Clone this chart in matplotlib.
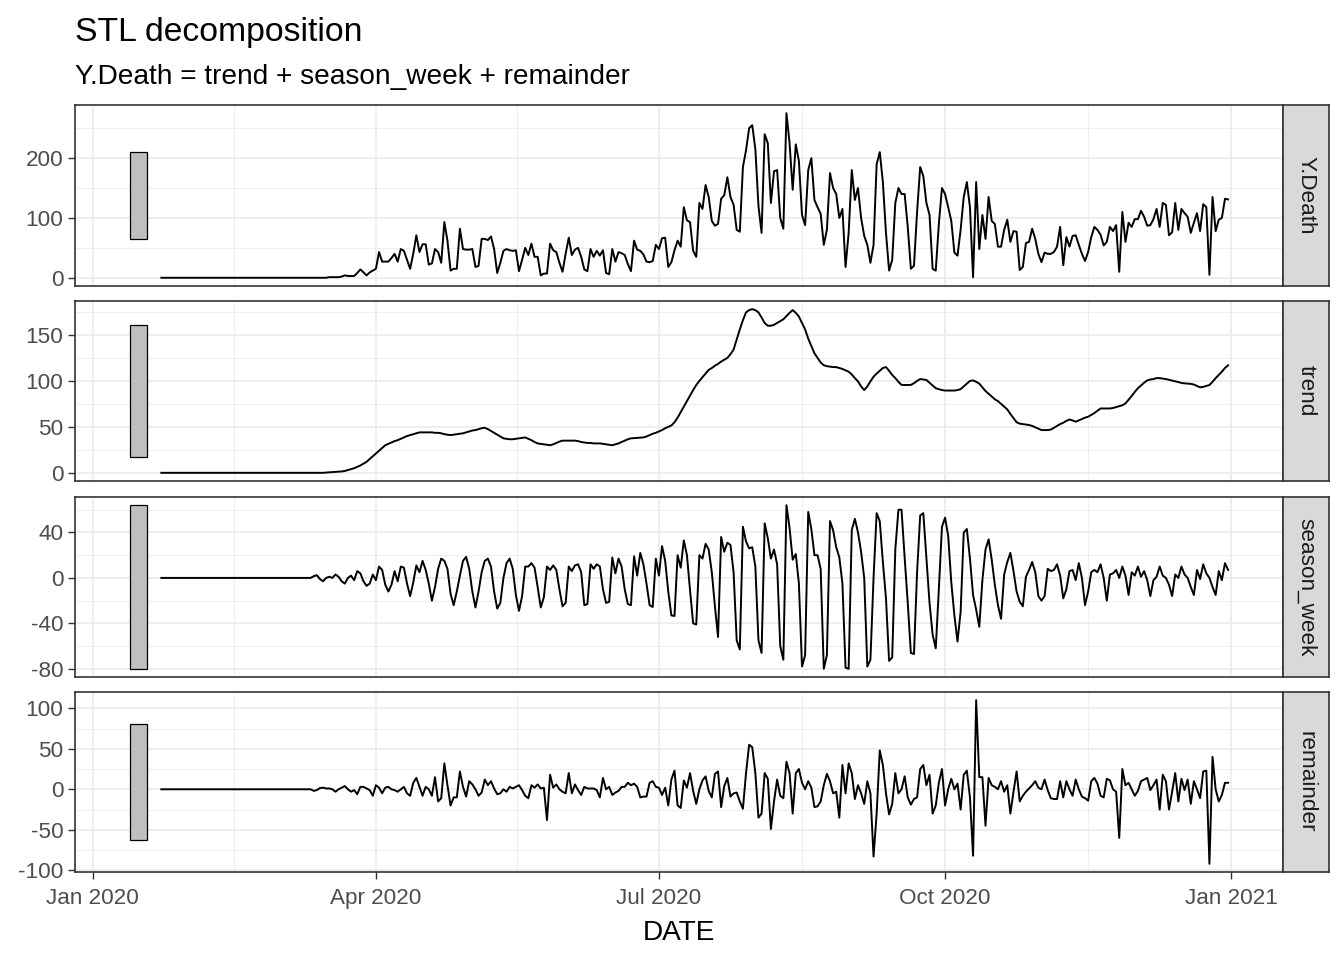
"""STL decomposition of daily deaths, four stacked panels"""
import matplotlib
matplotlib.use("Agg")
import matplotlib.pyplot as plt
import matplotlib.dates as mdates
from matplotlib.patches import Rectangle
from matplotlib.ticker import MultipleLocator, AutoMinorLocator
import pandas as pd

FIRST_DAY = "2020-01-23"

# Jan 23 - Mar 11 are flat zero (49 days), then rows of 10 days from Mar 12
Y_DEATH = [0] * 49 + [
    0, 0, 0, 0, 0, 1, 1, 1, 1, 2,
    4, 3, 3, 3, 8, 14, 9, 4, 9, 12,
    15, 43, 27, 27, 27, 33, 40, 27, 48, 45,
    30, 15, 40, 71, 43, 56, 56, 22, 24, 48,
    43, 25, 93, 62, 12, 15, 15, 82, 48, 47,
    47, 48, 18, 20, 65, 65, 63, 69, 48, 8,
    25, 45, 48, 46, 45, 46, 11, 30, 50, 38,
    57, 35, 35, 4, 7, 7, 57, 46, 43, 25,
    10, 40, 67, 38, 47, 50, 35, 14, 11, 48,
    35, 45, 37, 46, 8, 6, 48, 27, 43, 41,
    38, 23, 11, 62, 47, 45, 39, 27, 26, 28,
    55, 48, 66, 67, 18, 26, 46, 62, 52, 118,
    96, 93, 45, 35, 125, 115, 155, 135, 95, 87,
    90, 132, 138, 168, 135, 122, 80, 77, 185, 213,
    250, 255, 215, 120, 75, 240, 225, 125, 178, 180,
    100, 82, 275, 225, 147, 223, 195, 105, 88, 180,
    200, 130, 118, 107, 55, 80, 175, 150, 140, 100,
    115, 18, 75, 180, 130, 150, 100, 70, 55, 25,
    55, 190, 210, 160, 75, 12, 30, 125, 150, 140,
    140, 85, 15, 20, 110, 185, 170, 125, 105, 15,
    12, 90, 150, 140, 118, 95, 42, 37, 80, 135,
    160, 118, 1, 160, 48, 105, 65, 135, 95, 90,
    52, 52, 80, 97, 60, 78, 77, 13, 18, 58,
    60, 82, 65, 40, 26, 42, 40, 40, 43, 52,
    85, 21, 68, 52, 70, 71, 55, 40, 28, 43,
    68, 85, 80, 72, 54, 60, 85, 78, 88, 10,
    110, 60, 92, 85, 98, 98, 112, 102, 87, 88,
    98, 115, 85, 125, 122, 71, 76, 125, 80, 115,
    108, 102, 75, 92, 108, 78, 123, 118, 5, 135,
    78, 97, 100, 132, 131]

TREND = [0] * 49 + [
    0, 0, 0, 0, 0.3, 0.5, 0.8, 1, 1.2, 1.5,
    2, 3, 4, 5, 6.5, 8, 10, 12, 15, 18,
    21, 24, 27, 30, 31.5, 33, 34.5, 35.5, 37, 38.5,
    40, 41, 42, 43, 44, 44, 44, 44, 44, 43.5,
    43.5, 43, 42, 41.5, 41, 41.5, 42, 42.5, 43, 44,
    45, 46, 46.5, 47.5, 48.5, 49, 47.5, 45.5, 43.6, 41.5,
    39.5, 37.5, 37, 36.5, 36.5, 37, 37.5, 38, 38.5, 37,
    35.5, 33.5, 32, 31.5, 31, 30.5, 30, 31, 32.5, 34,
    35, 35, 35, 35, 35, 34.5, 33.5, 33, 32.5, 32.5,
    32, 32, 32, 31.5, 31, 30.5, 30, 31, 32, 33.5,
    35, 36.5, 37.5, 37.8, 38, 38.2, 38.5, 39.5, 41, 42.5,
    43.5, 45, 46.5, 48.5, 50, 51.5, 55, 60, 66, 72,
    78, 84, 90, 95.5, 100, 104, 108, 112, 114, 116.5,
    118.5, 121, 123, 125, 129, 134, 145, 156, 166, 174.5,
    177, 178, 177, 174.5, 169, 163, 160, 160, 161, 163,
    165, 167, 170.5, 174, 177, 174, 170, 163, 156, 146,
    138, 130, 125, 120, 117, 116, 115.5, 115, 115, 114,
    113, 111.5, 110, 107, 103, 99.5, 94, 90, 94, 99.5,
    104.5, 108, 111, 114, 115, 111, 106.5, 103, 99, 95.6,
    95.5, 95.5, 95.6, 97.5, 100, 102, 101.5, 101, 98, 95,
    92, 91, 90, 89.5, 89.5, 89.5, 89.5, 90, 91, 94,
    97, 100, 100.5, 99, 97, 93, 89, 86, 83, 80,
    78, 75, 72, 69, 64, 59.5, 55, 53.5, 53, 52.5,
    52, 51, 49.5, 48, 46.5, 46.5, 46.5, 47, 49, 51,
    53, 54.5, 56.5, 58, 57, 55.6, 57, 58.5, 60, 61,
    63, 65, 67.5, 70, 70, 70, 70, 70.5, 71.5, 72.5,
    73.5, 75.5, 79.5, 83.5, 88, 92, 95, 98, 100.5, 101.5,
    102, 103, 103, 102.5, 102, 101.2, 100.5, 99.6, 98.7, 97.8,
    97.3, 97, 96.8, 96, 94.5, 93, 93.5, 94.5, 95.5, 99,
    103, 106.5, 110, 114, 117]

SEASON_WEEK = [0] * 49 + [
    1.5, 2.4, -1, -3, 0, 1, 0, 3, 1, -3,
    -5, 0, 2, -2, 6, 4, -3, -7, -5, 3,
    -2, 10, 7, -6, -12, -6, 6, -3, 10, 9,
    -5, -16, -4, 11, 5, 15, 7, -5, -20, -8,
    8, 17, 15, 8, -14, -24, -12, 2, 15, 18.5,
    8, -12, -26, -12, 5, 15, 17, 10, -12, -27,
    -22, 0, 13, 17, 8, -15, -29, -16, 10, 10,
    13, 9, -8, -26, -17, 10, 7, 11, 7, -10,
    -25, -22, 10, 6, 11, 12, 5, -24, -23, 12,
    8, 12, 10, -10, -22, -21, 18, 4, 17, 10,
    -10, -23, -24, 19, 2, 22, 12, -5, -24, -25.6,
    17, 2, 28, 15, -12, -33, -33.5, 20, 9, 33,
    20, -11, -40, -41, 20, 17, 30, 25, 5, -25,
    -52, 36, 23, 31, 29, 5, -55, -63, 45, 32,
    26, 27, 10, -55, -66, 48, 35, 17, 25, 12,
    -60, -72, 64, 44, 16, 21, -5, -78, -68, 58,
    43, 20, 20, 8, -80, -68, 50, 42, 27, 18,
    -5, -79, -80, 42, 52, 40, 23, 0, -78, -72,
    0, 57, 50, 14, -18, -73, -70, 25, 60, 60,
    18, -22, -66, -67, 5, 55, 57, 17, -22, -50,
    -62, -10, 45, 53, 37, -4, -33, -56, -30, 40,
    43, 17, -15, -28, -43, -2, 25, 34, 16, -6,
    -24, -36, 3, 14, 22, 6, -12, -21, -25, 1,
    7, 14, 5, -16, -20, -16, 8, 6, 7, 12,
    2, -18, -10, 6, 7, -2, 13, 0, -24, -12,
    5, 7, 5, 12, 0, -20, 3, 4, 7, 0,
    10, 2, -15, 5, 2, 10, 1, 6, -2, -16,
    -2, 1, 10, 2, 0, -6, -16, 3, 0, 10,
    3, 0, -8, -15, 7, -1, 12, 4, 0, -8,
    -15, 6, -2, 13, 7]

REMAINDER = [0] * 49 + [
    -2, -1, 1.5, 2, 1, 1, 0, -3, 0, 2,
    4, 0, -3, -1, -6, 3, 3, 1, -1, -8,
    5, 2, -5, 2, 3, 0, -1, -3, 0, 3,
    -5, -8, 8, 14, 3, -8, 3, 0, -8, 15,
    -15, -11, 32, 5, -20, -10, -10, 22, 3, -9,
    10, 6, 0, -8, -4, 12, 5, 10, 1, -6,
    -5, 0, -3, 3, 1, 3, 5, -1, -8, -11,
    5, 2, 6, 1, 2, -38, 18, 2, 6, 0,
    -3, -5, 20, -5, 6, -1, -7, 3, 1, 1,
    1, -1, -10, 14, 0, 3, -7, -4, -2, 3,
    3, 8, 5, 7, 3, -10, -9, -9, 8, 10,
    3, 2, -7, 2, -20, 12, 23, -20, -23, 11,
    2, 20, -2, -18, 0, 11, 16, -2, -10, 19,
    22, -22, 4, 14, -9, -5, -4, -15, -24, 20,
    55, 52, 20, -35, -30, 20, 13, -49, -15, 12,
    -8, -11, 34, 20, -30, 20, 25, 8, 0, 10,
    2, -22, -21, -15, 5, 19, 10, -5, -3, -35,
    30, -5, 32, 20, -12, 5, -5, -18, 10, -5,
    -83, -30, 48, 30, -5, -31, -18, 20, -5, 0,
    16, -10, -19, -12, -10, 25, 30, 5, 18, -30,
    -20, 8, 25, -20, 0, 13, 0, 7, -25, 18,
    23, -10, -82, 110, 15, 15, -45, 14, 5, 3,
    0, 10, -3, 5, -30, -3, 22, -15, -8, -3,
    1, 5, 10, 2, 0, 12, -1, -11, -12, -12,
    10, -10, 10, 0, -8, 12, 0, -9, -11, -14,
    10, 14, 7, -8, -10, 13, 11, 0, -3, -60,
    25, 5, 8, 0, -8, -2, 10, 12, 14, -1,
    5, 12, -25, 18, 10, -25, -3, 20, -15, 13,
    -1, 12, -18, 10, 0, -11, 22, 23, -92, 40,
    0, -15, -7, 8, 8]

PANEL_NAMES = ["Y.Death", "trend", "season_week", "remainder"]
Y_STEPS = [100, 50, 40, 50]
X_BREAKS = ["2020-01-01", "2020-04-01", "2020-07-01", "2020-10-01", "2021-01-01"]
X_LABELS = ["Jan 2020", "Apr 2020", "Jul 2020", "Oct 2020", "Jan 2021"]

W, H = 1344, 960
PANEL_LEFT, PANEL_RIGHT, STRIP_RIGHT = 75, 1283, 1329
PANEL_ROWS = [(105, 286), (301, 481), (497, 677), (692, 872)]

plt.rcParams["font.family"] = ["Liberation Sans", "DejaVu Sans"]
plt.rcParams["axes.unicode_minus"] = False


def fig_box(left, top, right, bottom):
    """pixel box -> figure fraction rect"""
    return [left / W, 1 - bottom / H, (right - left) / W, (bottom - top) / H]


def plot():
    """draw the four panels"""
    series = [Y_DEATH, TREND, SEASON_WEEK, REMAINDER]
    days = pd.date_range(FIRST_DAY, periods=len(Y_DEATH), freq="D")
    xs = mdates.date2num(days)
    breaks = mdates.date2num(pd.to_datetime(X_BREAKS))
    minor = [(a + b) / 2 for a, b in zip(breaks[:-1], breaks[1:])]

    bar_left, bar_right = xs[0] - 10.1, xs[0] - 4.6
    bar_half = (max(SEASON_WEEK) - min(SEASON_WEEK)) / 2
    span = xs[-1] - bar_left
    xlim = (bar_left - 0.05 * span, xs[-1] + 0.05 * span)

    fig = plt.figure(figsize=(W / 100, H / 100), dpi=100)
    for i, (name, vals) in enumerate(zip(PANEL_NAMES, series)):
        top, bottom = PANEL_ROWS[i]
        ax = fig.add_axes(fig_box(PANEL_LEFT, top, PANEL_RIGHT, bottom))
        ax.plot(xs, vals, color="black", lw=1.4)

        lo, hi = min(vals), max(vals)
        mid = (lo + hi) / 2
        ax.add_patch(Rectangle((bar_left, mid - bar_half), bar_right - bar_left,
                               2 * bar_half, facecolor="#BFBFBF",
                               edgecolor="black", lw=0.9, zorder=3))
        pad = 0.05 * (hi - lo)
        ax.set_ylim(lo - pad, hi + pad)
        ax.set_xlim(*xlim)

        ax.yaxis.set_major_locator(MultipleLocator(Y_STEPS[i]))
        ax.yaxis.set_minor_locator(AutoMinorLocator(2))
        ax.set_xticks(breaks)
        ax.set_xticks(minor, minor=True)
        ax.grid(which="major", color="#EBEBEB", lw=1.2)
        ax.grid(which="minor", color="#EBEBEB", lw=0.6)
        ax.set_axisbelow(True)
        for sp in ax.spines.values():
            sp.set_color("#333333")
            sp.set_linewidth(1.2)
        ax.tick_params(which="major", direction="out", length=4.7, width=1.0,
                       color="#333333", labelcolor="#4D4D4D",
                       labelsize=16.2, pad=3.7)
        ax.tick_params(which="minor", length=0)
        if i == len(PANEL_NAMES) - 1:
            ax.set_xticklabels(X_LABELS)
            ax.tick_params(axis="x", pad=7.0)
        else:
            ax.tick_params(axis="x", which="both", bottom=False,
                           labelbottom=False)

        strip = fig.add_axes(fig_box(PANEL_RIGHT, top, STRIP_RIGHT, bottom))
        strip.set_facecolor("#D9D9D9")
        strip.set_xticks([])
        strip.set_yticks([])
        for sp in strip.spines.values():
            sp.set_color("#333333")
            sp.set_linewidth(1.2)
        strip.text(0.5, 0.5, name, rotation=270, ha="center", va="center",
                   fontsize=16.2, color="#1A1A1A", transform=strip.transAxes)

    fig.text(PANEL_LEFT / W, 1 - 41 / H, "STL decomposition",
             fontsize=24.3, va="baseline", ha="left")
    fig.text(PANEL_LEFT / W, 1 - 84 / H,
             "Y.Death = trend + season_week + remainder",
             fontsize=20.2, va="baseline", ha="left")
    fig.text((PANEL_LEFT + PANEL_RIGHT) / 2 / W, 1 - 940 / H, "DATE",
             fontsize=20.2, va="baseline", ha="center")
    fig.savefig("out.png", dpi=100)


plot()
